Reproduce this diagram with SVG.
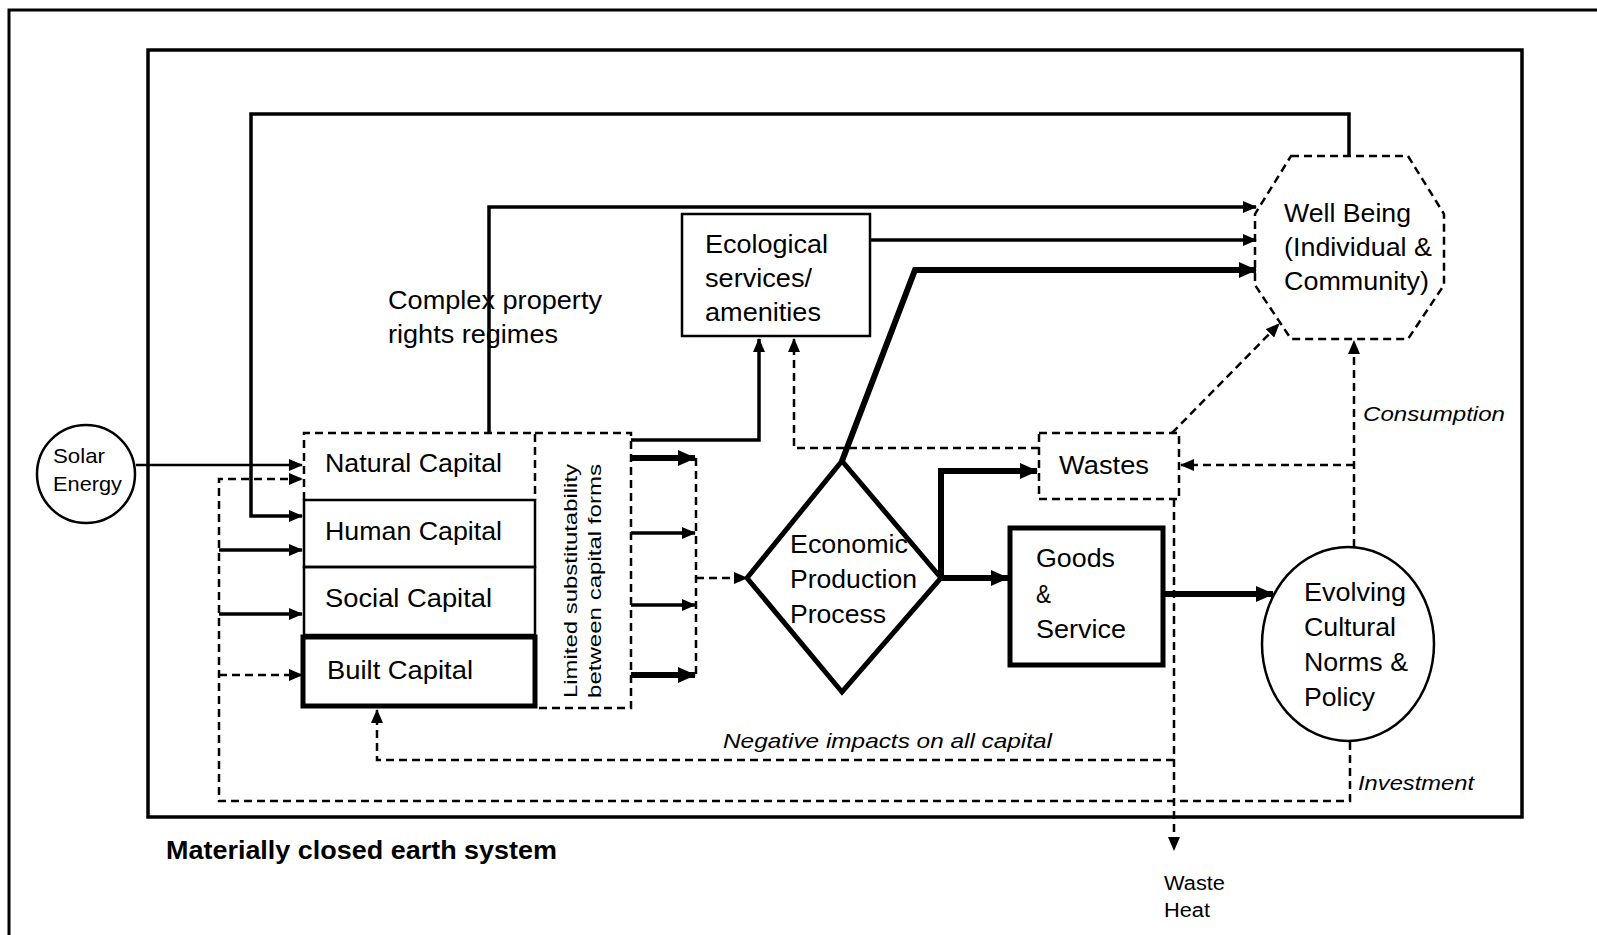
<svg xmlns="http://www.w3.org/2000/svg" width="1597" height="935" viewBox="0 0 1597 935">
<style>
text{font-family:"Liberation Sans",Arial,sans-serif;fill:#000}
.lb{font-size:26px}
.sm{font-size:21px}
.it{font-size:21px;font-style:italic}
.solid{fill:none;stroke:#000;stroke-width:2.5}
.dash{fill:none;stroke:#000;stroke-width:2.5;stroke-dasharray:8 5}
.thick{fill:none;stroke:#000;stroke-width:6}
.med{fill:none;stroke:#000;stroke-width:3.5}
</style>
<defs>
<marker id="a" markerUnits="userSpaceOnUse" markerWidth="14" markerHeight="12" refX="13" refY="6" orient="auto"><path d="M0,0 L14,6 L0,12 z" fill="#000"/></marker>
<marker id="aL" markerUnits="userSpaceOnUse" markerWidth="18" markerHeight="16" refX="17" refY="8" orient="auto"><path d="M0,0 L18,8 L0,16 z" fill="#000"/></marker>
</defs>
<rect width="1597" height="935" fill="#fff"/>
<rect x="9" y="10" width="1600" height="940" fill="none" stroke="#000" stroke-width="3"/>
<g id="earth-system">
<rect x="148" y="50" width="1374" height="767" fill="none" stroke="#000" stroke-width="3.5"/>
<text x="166" y="859" style="font-size:25px;font-weight:bold" textLength="391" lengthAdjust="spacingAndGlyphs">Materially closed earth system</text>
</g>
<g id="connectors">
<path class="solid" d="M136,465 H302" marker-end="url(#a)"/>
<path class="med" d="M1349,156 V114 H251 V516 H302" marker-end="url(#a)"/>
<path class="med" d="M489,433 V207 H1256" marker-end="url(#a)"/>
<path class="med" d="M870,240 H1256" marker-end="url(#a)"/>
<path class="thick" d="M842,461 L915,270 H1256" marker-end="url(#aL)"/>
<path class="med" d="M631,440 H759 V339" marker-end="url(#a)"/>
<path class="dash" d="M1039,448 H794 V339" marker-end="url(#a)"/>
<path class="dash" d="M1172,433 L1279,324" marker-end="url(#a)"/>
<path class="dash" d="M1354,547 V341" marker-end="url(#a)"/>
<path class="dash" d="M1354,465 H1181" marker-end="url(#a)"/>
<path class="dash" d="M1174,499 V850" marker-end="url(#a)"/>
<path class="dash" d="M1174,760 H377 V710" marker-end="url(#a)"/>
<path class="dash" d="M1350,742 V801 H219 V479 H302" marker-end="url(#a)"/>
<path class="dash" d="M219,675 H302" marker-end="url(#a)"/>
<path class="med" d="M219,550 H302" marker-end="url(#a)"/>
<path class="med" d="M219,614 H302" marker-end="url(#a)"/>
<path class="thick" d="M631,458 H695" marker-end="url(#aL)"/>
<path class="med" d="M631,533 H695" marker-end="url(#a)"/>
<path class="med" d="M631,605 H695" marker-end="url(#a)"/>
<path class="thick" d="M631,675 H695" marker-end="url(#aL)"/>
<path class="dash" d="M696,458 V675"/>
<path class="dash" d="M696,578 H747" marker-end="url(#a)"/>
<path class="thick" d="M941,578 H1008" marker-end="url(#aL)"/>
<path class="thick" d="M941,578 V471 H1037" marker-end="url(#aL)"/>
<path class="thick" d="M1163,594 H1273" marker-end="url(#aL)"/>
<text class="it" x="1363" y="421" textLength="142" lengthAdjust="spacingAndGlyphs">Consumption</text>
<text class="it" x="723" y="748" textLength="329" lengthAdjust="spacingAndGlyphs">Negative impacts on all capital</text>
<text class="it" x="1358" y="790" textLength="116" lengthAdjust="spacingAndGlyphs">Investment</text>
<text style="font-size:20px" x="1164" y="890" textLength="61" lengthAdjust="spacingAndGlyphs">Waste</text>
<text style="font-size:20px" x="1164" y="917" textLength="46" lengthAdjust="spacingAndGlyphs">Heat</text>
<text class="lb" x="388" y="309" textLength="214" lengthAdjust="spacingAndGlyphs">Complex property</text>
<text class="lb" x="388" y="343" textLength="170" lengthAdjust="spacingAndGlyphs">rights regimes</text>
</g>
<g id="solar-energy">
<circle cx="86" cy="474" r="49" class="solid"/>
<text class="sm" x="53" y="463" textLength="52" lengthAdjust="spacingAndGlyphs">Solar</text>
<text class="sm" x="53" y="491" textLength="69" lengthAdjust="spacingAndGlyphs">Energy</text>
</g>
<g id="natural-capital">
<path class="dash" d="M304,500 V433 H535 V500"/>
<text class="lb" x="325" y="472" textLength="177" lengthAdjust="spacingAndGlyphs">Natural Capital</text>
</g>
<g id="human-capital">
<rect x="304" y="500" width="231" height="67" class="solid"/>
<text class="lb" x="325" y="540" textLength="177" lengthAdjust="spacingAndGlyphs">Human Capital</text>
</g>
<g id="social-capital">
<rect x="304" y="567" width="231" height="68" class="solid"/>
<text class="lb" x="325" y="607" textLength="167" lengthAdjust="spacingAndGlyphs">Social Capital</text>
</g>
<g id="built-capital">
<rect x="303" y="637" width="232" height="69" fill="none" stroke="#000" stroke-width="5"/>
<text class="lb" x="327" y="679" textLength="146" lengthAdjust="spacingAndGlyphs">Built Capital</text>
</g>
<g id="substitutability">
<path class="dash" d="M535,433 H631 V708 H535"/>
<text style="font-size:19px" transform="translate(577,698) rotate(-90)" textLength="234" lengthAdjust="spacingAndGlyphs">Limited substitutability</text>
<text style="font-size:19px" transform="translate(601,698) rotate(-90)" textLength="234" lengthAdjust="spacingAndGlyphs">between capital forms</text>
</g>
<g id="ecological-services">
<rect x="682" y="214" width="188" height="122" class="solid"/>
<text class="lb" x="705" y="253" textLength="123" lengthAdjust="spacingAndGlyphs">Ecological</text>
<text class="lb" x="705" y="287" textLength="107" lengthAdjust="spacingAndGlyphs">services/</text>
<text class="lb" x="705" y="321" textLength="116" lengthAdjust="spacingAndGlyphs">amenities</text>
</g>
<g id="well-being">
<polygon class="dash" points="1291,156 1408,156 1444,214 1444,285 1408,339 1291,339 1255,285 1255,214"/>
<text class="lb" x="1284" y="222" textLength="127" lengthAdjust="spacingAndGlyphs">Well Being</text>
<text class="lb" x="1284" y="256" textLength="148" lengthAdjust="spacingAndGlyphs">(Individual &amp;</text>
<text class="lb" x="1284" y="290" textLength="145" lengthAdjust="spacingAndGlyphs">Community)</text>
</g>
<g id="wastes">
<rect x="1039" y="433" width="140" height="66" class="dash"/>
<text class="lb" x="1059" y="474" textLength="90" lengthAdjust="spacingAndGlyphs">Wastes</text>
</g>
<g id="economic-production">
<polygon points="842,461 941,578 842,692 747,578" fill="none" stroke="#000" stroke-width="5"/>
<text class="lb" x="790" y="553" textLength="118" lengthAdjust="spacingAndGlyphs">Economic</text>
<text class="lb" x="790" y="588" textLength="127" lengthAdjust="spacingAndGlyphs">Production</text>
<text class="lb" x="790" y="623" textLength="96" lengthAdjust="spacingAndGlyphs">Process</text>
</g>
<g id="goods-service">
<rect x="1010" y="528" width="153" height="137" fill="none" stroke="#000" stroke-width="5"/>
<text class="lb" x="1036" y="567" textLength="79" lengthAdjust="spacingAndGlyphs">Goods</text>
<text class="lb" x="1036" y="603" textLength="15" lengthAdjust="spacingAndGlyphs">&amp;</text>
<text class="lb" x="1036" y="638" textLength="90" lengthAdjust="spacingAndGlyphs">Service</text>
</g>
<g id="cultural-norms">
<ellipse cx="1348" cy="644" rx="86" ry="97" class="solid"/>
<text class="lb" x="1304" y="601" textLength="102" lengthAdjust="spacingAndGlyphs">Evolving</text>
<text class="lb" x="1304" y="636" textLength="92" lengthAdjust="spacingAndGlyphs">Cultural</text>
<text class="lb" x="1304" y="671" textLength="104" lengthAdjust="spacingAndGlyphs">Norms &amp;</text>
<text class="lb" x="1304" y="706" textLength="71" lengthAdjust="spacingAndGlyphs">Policy</text>
</g>
</svg>
